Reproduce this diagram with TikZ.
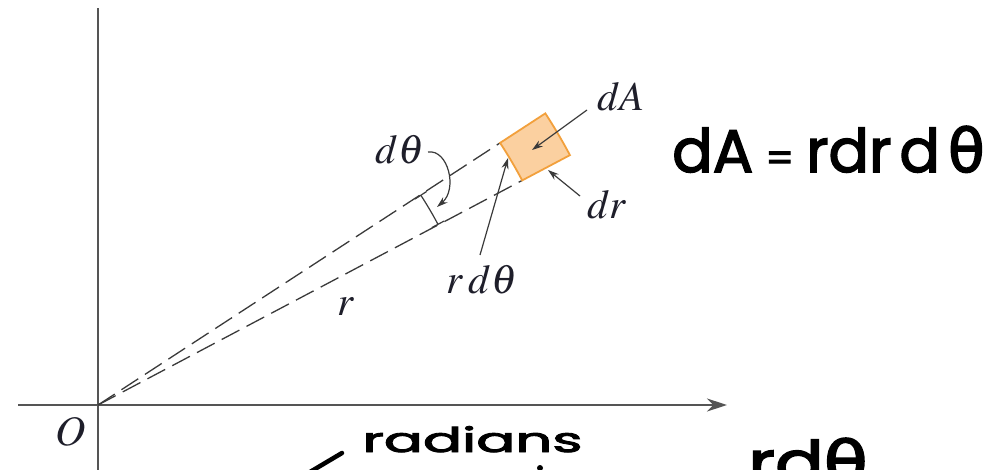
\documentclass[tikz,border=0pt]{standalone}
\usepackage{mathptmx}
\usepackage{fontspec}
\newfontfamily\hand{Poppins}[FakeBold=2.5]
\newfontfamily\handg{DejaVu Sans}[FakeBold=2.5]
\usetikzlibrary{arrows.meta}
\definecolor{axisgray}{HTML}{555555}
\definecolor{dashgray}{HTML}{3A3A3A}
\definecolor{labelc}{HTML}{1E1E2A}
\definecolor{boxfill}{HTML}{FBD0A0}
\definecolor{boxline}{HTML}{F2A03C}
\begin{document}
\begin{tikzpicture}[x=1pt,y=1pt,
  axis/.style={draw=axisgray, line width=1.6pt},
  ray/.style={draw=dashgray, line width=1.3pt, dash pattern=on 20pt off 8pt},
  pointer/.style={draw=dashgray, line width=1.2pt, -{Stealth[length=11pt,width=7pt]}},
  lbl/.style={text=labelc, font=\fontsize{41}{44}\selectfont, inner sep=0pt},
  hw/.style={font=\hand\fontsize{60}{64}\selectfont, inner sep=0pt, anchor=base west},
  ink/.style={line width=4.5pt, line cap=round}
]
\useasboundingbox (0,0) rectangle (993,469);
\clip (0,0) rectangle (993,469);
% axes
\coordinate (O) at (98,64);
\coordinate (ytop) at (98,461);
\coordinate (ybot) at (98,-2);
\coordinate (xl) at (18,64);
\coordinate (xr) at (727,64);
\draw[axis] (ybot) -- (ytop);
\draw[axis, -{Stealth[length=20pt,width=13pt]}] (xl) -- (xr);
\node[lbl, font=\fontsize{42}{46}\selectfont] (Olab) at (71,37) {$O$};
% polar element
\begin{scope}[shift={(O)}]
  \coordinate (P1) at (33.1:480);
  \coordinate (P2) at (27.9:480);
  \draw[ray] (0,0) -- (P1);
  \draw[ray] (0,0) -- (P2);
  \filldraw[fill=boxfill, draw=boxline, line width=1.8pt]
    (27.9:480) -- (27.9:534) arc[start angle=27.9, end angle=33.1, radius=534]
    -- (33.1:480) arc[start angle=33.1, end angle=27.9, radius=480] -- cycle;
  \draw[dashgray, line width=1.2pt, {Bar[width=14pt]}-{Bar[width=14pt]}]
    (27.9:385) arc[start angle=27.9, end angle=33.1, radius=385];
\end{scope}
% labels
\node[lbl] (dth) at (400,319) {$d\theta$};
\node[lbl] (dA) at (621,372) {$dA$};
\node[lbl] (dr) at (607,264) {$dr$};
\node[lbl] (rdth) at (482,189) {$r\,d\theta$};
\node[lbl] (r) at (346,162) {$r$};
% pointer coordinates
\coordinate (dthfrom) at (428,317);
\coordinate (dthto) at (437,262);
\coordinate (dAfrom) at (587,359);
\coordinate (dAto) at (532,319);
\coordinate (drfrom) at (580,273);
\coordinate (drto) at (548,299);
\coordinate (rdthfrom) at (480,214);
\coordinate (rdthto) at (508,311);
\draw[pointer] (dthfrom) .. controls (448,320) and (458,280) .. (dthto);
\draw[pointer] (dAfrom) -- (dAto);
\draw[pointer] (drfrom) -- (drto);
\draw[pointer] (rdthfrom) -- (rdthto);
% handwriting
\node[hw] (eq) at (672,297) {dA\hspace{12pt}{\fontsize{40}{40}\selectfont=}\hspace{12pt}rdr\hspace{8pt}d\hspace{8pt}{\handg θ}};
\node[hw, font=\hand\fontsize{34}{40}\selectfont, xscale=1.7] (rad) at (362,17) {radians};
\node[hw, xscale=1.2] (rdb) at (748,-15) {rd{\handg θ}};
\coordinate (s1) at (310,-3);
\coordinate (s2) at (342,16);
\draw[ink] (s1) -- (s2);
\fill (540,1) circle (3);
\end{tikzpicture}
\end{document}
